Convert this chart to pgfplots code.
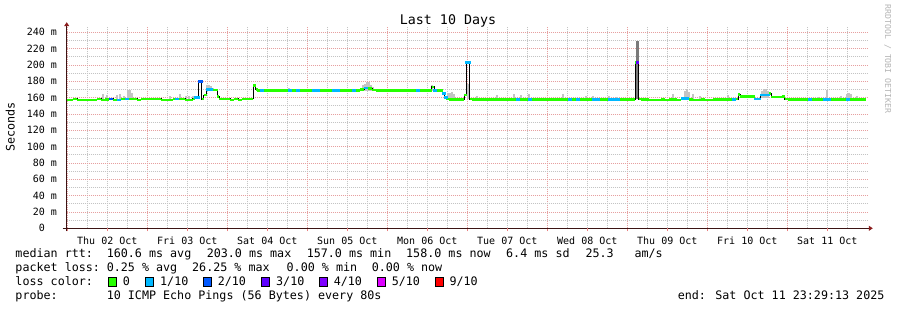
\documentclass[border=0pt]{standalone}
\usepackage{fontspec}
\setmainfont{DejaVu Sans Mono}
\usepackage{pgfplots}
\pgfplotsset{compat=1.18}
\usetikzlibrary{arrows.meta}
\definecolor{lc0}{HTML}{26FF00}
\definecolor{lc1}{HTML}{00B8FF}
\definecolor{lc2}{HTML}{0059FF}
\definecolor{lc3}{HTML}{5E00FF}
\definecolor{lc4}{HTML}{7E00FF}
\definecolor{lc5}{HTML}{DD00FF}
\definecolor{lc9}{HTML}{FF0000}
\definecolor{gridmaj}{HTML}{E6A0A0}
\definecolor{gridmin}{HTML}{C4C4C4}
\definecolor{smoke}{HTML}{C4C4C4}
\definecolor{smokedark}{HTML}{7A7A7A}
\definecolor{axisline}{HTML}{3C1414}
\definecolor{arrowred}{HTML}{8C1E1E}
\definecolor{rrdgray}{HTML}{B4B4B4}
\newcommand{\lf}{\fontsize{11.7bp}{14bp}\selectfont}
\newcommand{\tf}{\fontsize{10bp}{12bp}\selectfont}

\pgfplotstableread{
h v
-0.10 157.3
1.11 157.3
2.31 158.5
3.51 157.3
4.71 157.3
5.91 157.3
7.11 157.3
8.31 157.3
9.51 158.5
10.71 157.3
11.91 157.5
13.11 158.5
14.31 157.3
15.51 157.3
16.71 158.5
17.91 158.5
19.11 158.5
20.31 158.5
21.51 157.3
22.71 158.5
23.91 158.5
25.11 158.5
26.31 158.5
27.51 158.5
28.71 157.3
29.91 157.3
31.11 157.3
32.31 158.5
33.51 158.5
34.71 158.5
35.91 157.3
37.11 157.3
38.01 158.5
38.61 160
39.21 160
39.66 180
40.11 180
40.56 158
41.31 163
42.21 170
43.11 170
44.01 169
44.76 169
45.21 161.5
45.81 158.5
47.01 158.5
48.21 158.5
49.41 157.3
50.61 158.5
51.81 157.3
53.01 158.5
54.21 158.5
55.41 158.5
56.16 175
56.76 170
57.21 168.5
58.41 168.5
59.61 168.5
60.81 168.5
62.01 168.5
63.21 168.5
64.41 168.5
65.61 168.5
66.81 168.5
68.01 168.5
69.21 168.5
70.41 168.5
71.61 168.5
72.81 168.5
74.01 168.5
75.21 168.5
76.41 168.5
77.61 168.5
78.81 168.5
80.01 168.5
81.21 168.5
82.41 168.5
83.61 168.5
84.81 168.5
86.01 168.5
87.21 168.5
88.41 170
89.61 171.5
90.81 171
92.01 169
93.21 168.5
94.41 168.5
95.61 168.5
96.81 168.5
98.01 168.5
99.21 168.5
100.41 168.5
101.61 168.5
102.81 168.5
104.01 168.5
105.21 168.5
106.41 168.5
107.61 168.5
108.81 168.5
109.71 173
110.31 168.5
111.51 168.5
112.41 168.5
112.86 165
113.46 160
113.91 158
115.11 157.8
116.31 157.8
117.51 157.8
118.71 157.8
119.46 163
119.91 203
120.51 203
120.96 158
122.01 157.8
123.21 157.8
124.41 157.8
125.61 157.8
126.81 157.8
128.01 157.8
129.21 157.8
130.41 157.8
131.61 157.8
132.81 157.8
134.01 157.8
135.21 157.8
136.41 157.8
137.61 157.8
138.81 157.8
140.01 157.8
141.21 157.8
142.41 157.8
143.61 157.8
144.81 157.8
146.01 157.8
147.21 157.8
148.41 157.8
149.61 157.8
150.81 157.8
152.01 157.8
153.21 157.8
154.41 157.8
155.61 157.8
156.81 157.8
158.01 157.8
159.21 157.8
160.41 157.8
161.61 157.8
162.81 157.8
164.01 157.8
165.21 157.8
166.41 157.8
167.61 157.8
168.81 157.8
170.01 157.8
170.76 203
171.21 203
171.66 158
172.71 157.8
173.91 157.8
175.11 157.3
176.31 157.3
177.51 157.3
178.71 157.8
179.91 157.3
181.11 157.8
182.31 157.8
183.51 157.3
184.71 159
185.91 159
187.11 157.8
188.31 157.3
189.51 157.3
190.71 157.8
191.91 157.3
193.11 157.3
194.31 157.8
195.51 157.8
196.71 157.8
197.91 157.8
199.11 157.8
200.01 157.8
200.91 158
201.51 164
202.11 161.5
203.31 161.5
204.51 161.5
205.71 161.5
206.61 158.5
207.51 158.5
208.41 163
209.31 163
210.21 163
210.81 165
211.41 161
212.61 161
213.81 161
214.71 161.6
215.61 158
216.81 157.8
218.01 157.8
219.21 157.8
220.41 157.8
221.61 157.8
222.81 157.8
224.01 157.8
225.21 157.8
226.41 157.8
227.31 157.8
228.51 157.8
229.71 157.8
230.91 157.8
232.11 157.8
233.31 157.8
234.21 157.8
235.41 157.8
236.61 157.8
237.81 157.8
239.01 157.8
239.61 157.8
}\median

\pgfplotstableread{
h v
15.51 157.3
17.91 158.5
32.91 158.5
38.61 160
39.21 160
42.21 170
43.11 170
58.41 168.5
66.81 168.5
69.21 168.5
74.01 168.5
75.21 168.5
80.01 168.5
81.21 168.5
86.01 168.5
89.61 171.5
105.21 168.5
110.31 168.5
112.86 165
113.46 160
119.91 203
120.51 203
135.21 157.8
138.81 157.8
150.81 157.8
153.21 157.8
158.01 157.8
159.21 157.8
162.81 157.8
164.01 157.8
165.21 157.8
184.71 159
185.91 159
200.01 157.8
206.61 158.5
207.51 158.5
208.41 163
209.31 163
210.21 163
222.81 157.8
227.31 157.8
228.51 157.8
234.21 157.8
}\lossone

\pgfplotstableread{
h v
13.11 158.5
39.66 180
40.11 180
}\losstwo

\pgfplotstableread{
h v
171.0 203
}\lossthree

\pgfplotstableread{
h v
10.56 157
10.56 164
nan nan
11.76 157
11.76 163
nan nan
14.91 157
14.91 163
nan nan
15.81 157
15.81 164
nan nan
17.01 157
17.01 162
nan nan
18.06 157
18.06 169
nan nan
18.66 157
18.66 169
nan nan
19.26 157
19.26 166
nan nan
30.81 157
30.81 162
nan nan
33.81 157
33.81 164
nan nan
35.61 157
35.61 162
nan nan
36.51 157
36.51 162
nan nan
37.56 157
37.56 162
nan nan
41.91 169
41.91 175
nan nan
42.51 169
42.51 175
nan nan
43.11 169
43.11 174
nan nan
43.71 168
43.71 172
nan nan
66.51 168
66.51 172
nan nan
70.71 168
70.71 171
nan nan
88.71 168
88.71 175
nan nan
89.31 168
89.31 177
nan nan
89.91 168
89.91 179
nan nan
90.51 168
90.51 179
nan nan
91.11 168
91.11 176
nan nan
91.71 168
91.71 173
nan nan
96.81 168
96.81 170.5
nan nan
109.41 168
109.41 176
nan nan
114.21 157
114.21 166
nan nan
114.81 157
114.81 166
nan nan
115.41 157
115.41 167
nan nan
116.01 157
116.01 165
nan nan
120.21 158
120.21 177
nan nan
122.91 157
122.91 162
nan nan
128.91 157
128.91 163.5
nan nan
134.01 157
134.01 165
nan nan
136.11 157
136.11 163
nan nan
138.51 157
138.51 164
nan nan
148.71 157
148.71 164
nan nan
155.61 157
155.61 161.5
nan nan
157.71 157
157.71 162
nan nan
162.51 157
162.51 162
nan nan
164.91 157
164.91 161
nan nan
181.71 157
181.71 165
nan nan
185.31 157
185.31 168
nan nan
185.91 157
185.91 171
nan nan
186.51 157
186.51 167
nan nan
187.71 157
187.71 165
nan nan
189.81 157
189.81 162
nan nan
198.21 157
198.21 163
nan nan
208.41 160
208.41 168
nan nan
209.01 160
209.01 171
nan nan
209.61 160
209.61 171
nan nan
210.21 160
210.21 168
nan nan
225.21 157
225.21 161
nan nan
227.91 157
227.91 169
nan nan
232.11 157
232.11 162
nan nan
233.91 157
233.91 165
nan nan
234.51 157
234.51 165.7
nan nan
235.11 157
235.11 165
nan nan
236.91 157
236.91 162
}\smoketab

\pgfplotstableread{
h v
171.0 158
171.0 229
}\smokespike

\begin{document}
\begin{tikzpicture}
\useasboundingbox (0,0) rectangle (897bp,310bp);
\begin{axis}[
  at={(66.7bp,81.7bp)}, anchor=south west, scale only axis,
  width=801.6bp, height=201.6bp,
  xmin=-0.18, xmax=240.3, ymin=0, ymax=246.8,
  axis x line*=bottom, axis y line*=left,
  x axis line style={draw=axisline, line width=1bp, shorten <=-4bp, shorten >=-4.5bp, -{Triangle[length=4bp,width=5bp,color=arrowred]}},
  y axis line style={draw=axisline, line width=1bp, shorten <=-3bp, shorten >=-4.5bp, -{Triangle[length=4bp,width=5bp,color=arrowred]}},
  xtick={0,24,...,216}, xticklabels={},
  minor xtick={6,12,...,234},
  extra x ticks={12,36,...,228},
  extra x tick labels={Thu 02 Oct,Fri 03 Oct,Sat 04 Oct,Sun 05 Oct,Mon 06 Oct,Tue 07 Oct,Wed 08 Oct,Thu 09 Oct,Fri 10 Oct,Sat 11 Oct},
  extra x tick style={grid=none, tick style={draw=none}},
  xticklabel style={font=\tf, anchor=base, inner sep=0pt, yshift=-13bp},
  ytick={0,20,...,240},
  yticklabels={0\hphantom{\ m},20 m,40 m,60 m,80 m,100 m,120 m,140 m,160 m,180 m,200 m,220 m,240 m},
  minor ytick={10,30,...,230},
  yticklabel style={font=\tf, anchor=east, inner sep=0pt, xshift=-6.5bp},
  grid=both,
  major grid style={draw=gridmaj, line width=0.8bp, dash pattern=on 1bp off 1bp},
  minor grid style={draw=gridmin, line width=0.8bp, dash pattern=on 1bp off 1bp},
  ytick style={draw=none},
  xtick style={draw=gridmaj!80!red, line width=1bp},
  major tick length=3bp, minor tick length=0pt,
  tick align=outside,
]
\addplot[smoke, line width=2bp, unbounded coords=jump, forget plot] table[x=h,y=v] {\smoketab};
\addplot[smokedark, line width=2.5bp, forget plot] table[x=h,y=v] {\smokespike};
\addplot[black, line width=1bp, const plot mark mid, forget plot] table[x=h,y=v] {\median};
\addplot[lc0, line width=2.5bp, jump mark mid, forget plot] table[x=h,y=v] {\median};
\addplot[only marks, mark=-, mark size=2bp, mark options={draw=lc1, line width=2.5bp}, forget plot] table[x=h,y=v] {\lossone};
\addplot[only marks, mark=-, mark size=2bp, mark options={draw=lc2, line width=2.5bp}, forget plot] table[x=h,y=v] {\losstwo};
\addplot[only marks, mark=-, mark size=1.5bp, mark options={draw=lc3, line width=2.5bp}, forget plot] table[x=h,y=v] {\lossthree};
\end{axis}

\node[anchor=base, inner sep=0pt, font=\fontsize{13.3bp}{16bp}\selectfont] at (448bp,285.5bp) {Last 10 Days};
\node[anchor=base, inner sep=0pt, rotate=90, font=\lf] at (14.5bp,183bp) {Seconds};
\node[anchor=base, inner sep=0pt, rotate=-90, font=\fontsize{8.2bp}{10bp}\selectfont, text=rrdgray] at (885bp,251bp) {RRDTOOL / TOBI OETIKER};

\begin{scope}[every node/.style={anchor=base west, inner sep=0pt, font=\lf}]
\node at (15.3bp,52.2bp) {median rtt:};
\node at (106.6bp,52.2bp) {160.6 ms avg};
\node at (206.6bp,52.2bp) {203.0 ms max};
\node at (306.6bp,52.2bp) {157.0 ms min};
\node at (406.0bp,52.2bp) {158.0 ms now};
\node at (506.0bp,52.2bp) {6.4 ms sd};
\node at (585.3bp,52.2bp) {25.3};
\node at (634.3bp,52.2bp) {am/s};
\node at (15.3bp,38.2bp) {packet loss:};
\node at (106.6bp,38.2bp) {0.25 \% avg};
\node at (192.0bp,38.2bp) {26.25 \% max};
\node at (286.5bp,38.2bp) {0.00 \% min};
\node at (371.6bp,38.2bp) {0.00 \% now};
\node at (15.3bp,24.2bp) {loss color:};
\node at (122.6bp,24.2bp) {0};
\node at (160.0bp,24.2bp) {1/10};
\node at (217.6bp,24.2bp) {2/10};
\node at (276.0bp,24.2bp) {3/10};
\node at (333.6bp,24.2bp) {4/10};
\node at (391.6bp,24.2bp) {5/10};
\node at (449.3bp,24.2bp) {9/10};
\node at (15.3bp,10.2bp) {probe:};
\node at (106.6bp,10.2bp) {10 ICMP Echo Pings (56 Bytes) every 80s};
\node at (677.6bp,10.2bp) {end: Sat Oct 11 23:29:13 2025};
\end{scope}
\foreach \bx/\bc in {108.3/lc0,145.7/lc1,203.3/lc2,261.7/lc3,319.3/lc4,377.3/lc5,435/lc9}{
  \filldraw[fill=\bc, draw=black, line width=0.8bp] (\bx bp,23.3bp) rectangle ++(8bp,9bp);
}
\end{tikzpicture}
\end{document}
